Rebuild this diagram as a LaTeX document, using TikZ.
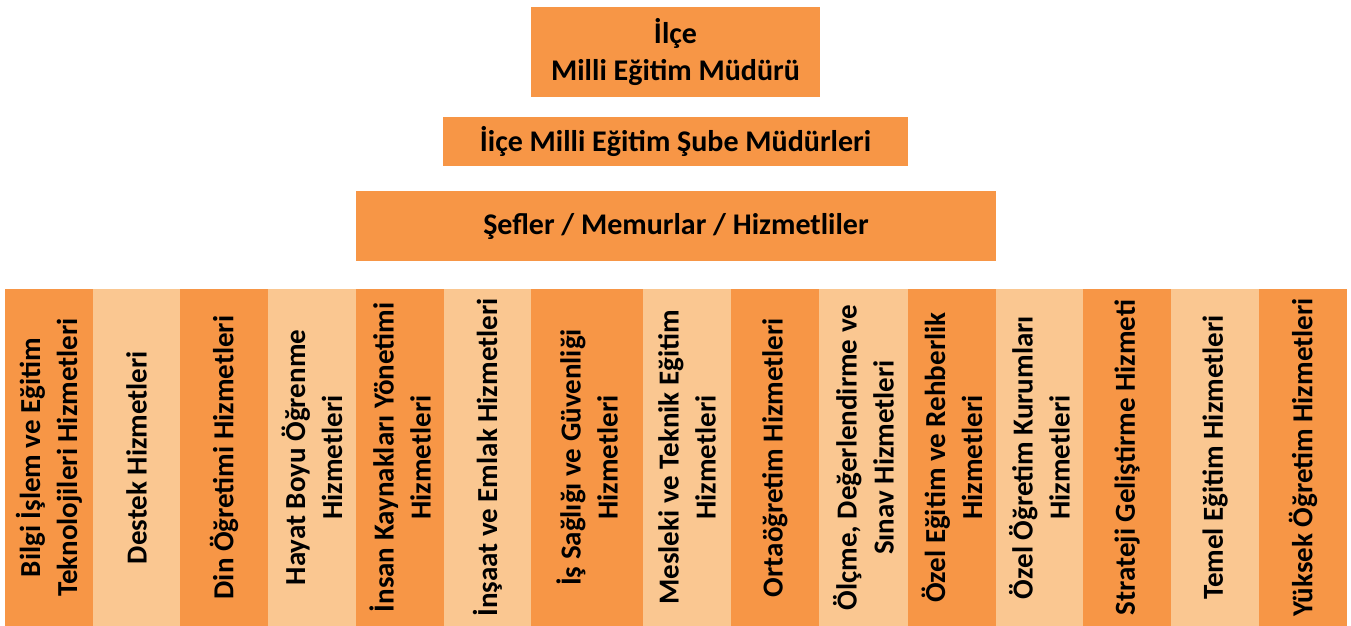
\documentclass[tikz,border=0pt]{standalone}
\usepackage{fontspec}
\setmainfont{Carlito}
\usetikzlibrary{positioning}
\definecolor{darkorange}{HTML}{F79646}
\definecolor{lightorange}{HTML}{FAC791}

\begin{document}
\begin{tikzpicture}[x=1pt, y=-1pt,
  box/.style={fill=darkorange, inner sep=0, align=center, text=black,
    font=\bfseries\fontsize{30}{37}\selectfont},
  col/.style={box, rotate=90, minimum width=337,
    font=\bfseries\fontsize{29}{37}\selectfont}]

\useasboundingbox (0,0) rectangle (1351,626);

% top boxes %
\node[box, minimum width=289, minimum height=90] (mudur) at (675.5,52) {İlçe\\Milli Eğitim Müdürü};
\node[box, minimum width=465, minimum height=49] (sube) at (675.5,141.5) {İiçe Milli Eğitim Şube Müdürleri};
\node[box, minimum width=640, minimum height=70] (sefler) at (676,226) {Şefler / Memurlar / Hizmetliler};

% columns %
\foreach \l/\r/\c/\t/\n in {
  5/93/darkorange/{Bilgi İşlem ve Eğitim\\Teknolojileri Hizmetleri}/c1,
  93/180/lightorange/{Destek Hizmetleri}/c2,
  180/268/darkorange/{Din Öğretimi Hizmetleri}/c3,
  268/356/lightorange/{Hayat Boyu Öğrenme\\Hizmetleri}/c4,
  356/444/darkorange/{İnsan Kaynakları Yönetimi\\Hizmetleri}/c5,
  444/531/lightorange/{İnşaat ve Emlak Hizmetleri}/c6,
  531/643/darkorange/{İş Sağlığı ve Güvenliği\\Hizmetleri}/c7,
  643/731/lightorange/{Mesleki ve Teknik Eğitim\\Hizmetleri}/c8,
  731/819/darkorange/{Ortaöğretim Hizmetleri}/c9,
  819/908/lightorange/{Ölçme, Değerlendirme ve\\Sınav Hizmetleri}/c10,
  908/996/darkorange/{Özel Eğitim ve Rehberlik\\Hizmetleri}/c11,
  996/1083/lightorange/{Özel Öğretim Kurumları\\Hizmetleri}/c12,
  1083/1171/darkorange/{Strateji Geliştirme Hizmeti}/c13,
  1171/1259/lightorange/{Temel Eğitim Hizmetleri}/c14,
  1259/1347/darkorange/{Yüksek Öğretim Hizmetleri}/c15}
  \node[col, fill=\c, minimum height={\r-\l}] (\n) at ({(\l+\r)/2},457.5) {\t};

\end{tikzpicture}
\end{document}
